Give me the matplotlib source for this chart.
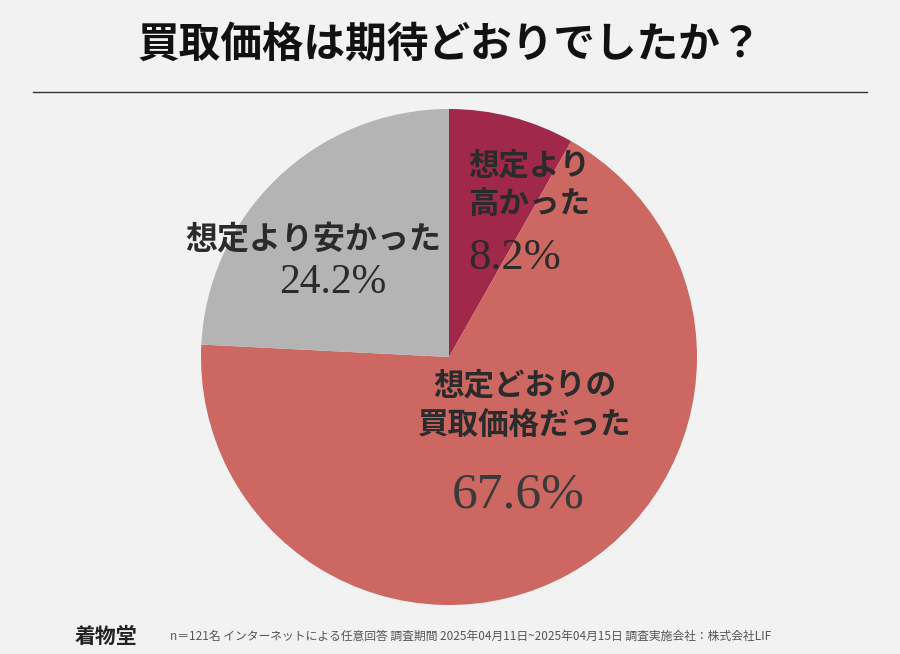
import matplotlib.pyplot as plt

labels = ["想定より\n高かった", "想定どおりの\n買取価格だった", "想定より安かった"]
values = [8.2, 67.6, 24.2]
colors = ["#a0284b", "#cd6761", "#b4b4b4"]

jp = "Noto Sans CJK JP"
W, H = 900, 654
fig = plt.figure(figsize=(9, 6.54), dpi=100, facecolor="#f2f2f2")

cx, cy, r = 449, 357, 248
ax = fig.add_axes([(cx - r) / W, (H - cy - r) / H, 2 * r / W, 2 * r / H])
ax.pie(values, colors=colors, startangle=90, counterclock=False,
       wedgeprops=dict(linewidth=0))
ax.set_xlim(-1, 1); ax.set_ylim(-1, 1); ax.set_aspect("equal")

def d(px, py):
    return (px - cx) / r, (cy - py) / r

txt = "#2b2b2b"
ax.text(*d(468, 185), labels[0], ha="left", va="center", fontfamily=jp,
        fontsize=22, fontweight="bold", color=txt, linespacing=1.25)
ax.text(*d(468, 258), f"{values[0]}%", ha="left", va="center", fontfamily="Liberation Serif",
        fontsize=32, color=txt)
ax.text(*d(525, 405), labels[1], ha="center", va="center", fontfamily=jp,
        fontsize=22, fontweight="bold", color=txt, linespacing=1.3)
ax.text(*d(518, 495), f"{values[1]}%", ha="center", va="center", fontfamily="Liberation Serif",
        fontsize=37, color="#3a3a3a")
ax.text(*d(313, 240), labels[2], ha="center", va="center", fontfamily=jp,
        fontsize=23, fontweight="bold", color=txt)
ax.text(*d(333, 283), f"{values[2]}%", ha="center", va="center", fontfamily="Liberation Serif",
        fontsize=30, color=txt)

fig.text(0.5, 1 - 45 / H, "買取価格は期待どおりでしたか？", ha="center", va="center",
         fontfamily=jp, fontsize=30, fontweight="bold", color="#111111")
fig.add_artist(plt.Line2D([33 / W, 867 / W], [1 - 92 / H] * 2, color="#333333", lw=1))

fig.text(75 / W, 1 - 636 / H, "着物堂", ha="left", va="center", fontfamily=jp,
         fontsize=15, fontweight="bold", color="#222222")
fig.text(170 / W, 1 - 636 / H,
         "n＝121名 インターネットによる任意回答 調査期間 2025年04月11日~2025年04月15日 調査実施会社：株式会社LIF",
         ha="left", va="center", fontfamily=jp, fontsize=8.5, color="#555555")

fig.savefig("out.png", dpi=100, facecolor=fig.get_facecolor())
